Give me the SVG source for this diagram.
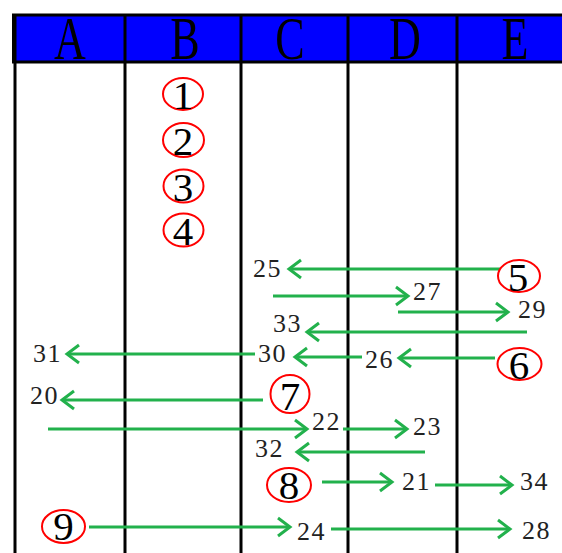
<svg xmlns="http://www.w3.org/2000/svg" width="562" height="553" viewBox="0 0 562 553">
<style>
.hdr{font-family:"Liberation Serif","Times New Roman",serif;font-size:44px;fill:#000;text-anchor:middle}
.grid{stroke:#000;stroke-width:3;fill:none}
.ring{fill:none;stroke:#ff0000;stroke-width:2}
.dig{font-family:"Liberation Serif","Times New Roman",serif;font-size:41px;fill:#000;text-anchor:middle}
.lbl{font-family:"Liberation Serif","Times New Roman",serif;font-size:26px;fill:#222;letter-spacing:1.5px}
.arr{stroke:#22b14c;stroke-width:3;fill:none;marker-end:url(#chev)}
</style>
<defs>
<marker id="chev" markerUnits="userSpaceOnUse" viewBox="-16 -12 20 24" refX="0" refY="0" markerWidth="20" markerHeight="24" orient="auto" overflow="visible">
<path d="M-12,-9 L0,0 L-12,9" fill="none" stroke="#22b14c" stroke-width="3" stroke-linejoin="miter"/>
</marker>
</defs>
<rect width="562" height="553" fill="#fff"/>
<g id="header">
<rect x="13.5" y="15" width="552" height="47" fill="#0000ff" stroke="#000" stroke-width="3"/>
<text class="hdr" transform="translate(70,59) scale(1,1.37)">A</text>
<text class="hdr" transform="translate(185,59) scale(1,1.37)">B</text>
<text class="hdr" transform="translate(290,59) scale(1,1.37)">C</text>
<text class="hdr" transform="translate(405,59) scale(1,1.37)">D</text>
<text class="hdr" transform="translate(515,59) scale(1,1.37)">E</text>
</g>
<g id="grid" class="grid">
<line x1="15" y1="15" x2="15" y2="553"/>
<line x1="125" y1="15" x2="125" y2="553"/>
<line x1="241" y1="15" x2="241" y2="553"/>
<line x1="348" y1="15" x2="348" y2="553"/>
<line x1="457" y1="15" x2="457" y2="553"/>
</g>
<g id="connectors">
<line class="arr" x1="500" y1="269" x2="289" y2="269"/>
<line class="arr" x1="273" y1="296" x2="408" y2="296"/>
<line class="arr" x1="398" y1="312" x2="508" y2="312"/>
<line class="arr" x1="527" y1="332" x2="307" y2="332"/>
<line class="arr" x1="495" y1="358" x2="399" y2="358"/>
<line class="arr" x1="362" y1="357" x2="295" y2="357"/>
<line class="arr" x1="255" y1="354" x2="67" y2="354"/>
<line class="arr" x1="263" y1="400" x2="62" y2="400"/>
<line class="arr" x1="48" y1="429" x2="307" y2="429"/>
<line class="arr" x1="343" y1="429" x2="407" y2="429"/>
<line class="arr" x1="425" y1="452" x2="297" y2="452"/>
<line class="arr" x1="322" y1="482" x2="392" y2="482"/>
<line class="arr" x1="435" y1="485" x2="512" y2="485"/>
<line class="arr" x1="89" y1="527" x2="290" y2="527"/>
<line class="arr" x1="331" y1="529" x2="510" y2="529"/>
</g>
<g id="n1"><ellipse class="ring" cx="183" cy="94" rx="20" ry="16"/><text class="dig" x="183" y="109">1</text></g>
<g id="n2"><ellipse class="ring" cx="183.5" cy="140" rx="20.5" ry="17"/><text class="dig" x="183" y="155">2</text></g>
<g id="n3"><ellipse class="ring" cx="183.5" cy="186" rx="20" ry="16.5"/><text class="dig" x="183" y="201">3</text></g>
<g id="n4"><ellipse class="ring" cx="183.5" cy="230" rx="20" ry="16.5"/><text class="dig" x="183" y="245">4</text></g>
<g id="n5"><ellipse class="ring" cx="519" cy="276" rx="21" ry="16"/><text class="dig" x="518" y="291">5</text></g>
<g id="n6"><ellipse class="ring" cx="519.5" cy="364" rx="22" ry="16"/><text class="dig" x="519" y="379">6</text></g>
<g id="n7"><ellipse class="ring" cx="290" cy="394" rx="19.5" ry="19"/><text class="dig" x="290" y="410">7</text></g>
<g id="n8"><ellipse class="ring" cx="289" cy="485" rx="22" ry="17"/><text class="dig" x="289" y="499">8</text></g>
<g id="n9"><ellipse class="ring" cx="63.5" cy="526.5" rx="21.5" ry="16.5"/><text class="dig" x="63.5" y="540">9</text></g>
<g id="labels">
<text class="lbl" x="253" y="277">25</text>
<text class="lbl" x="413" y="300">27</text>
<text class="lbl" x="518" y="318">29</text>
<text class="lbl" x="273" y="332">33</text>
<text class="lbl" x="258" y="362">30</text>
<text class="lbl" x="365" y="368">26</text>
<text class="lbl" x="33" y="362">31</text>
<text class="lbl" x="30" y="404">20</text>
<text class="lbl" x="312" y="430">22</text>
<text class="lbl" x="413" y="435">23</text>
<text class="lbl" x="255" y="457">32</text>
<text class="lbl" x="402" y="490">21</text>
<text class="lbl" x="520" y="490">34</text>
<text class="lbl" x="297" y="540">24</text>
<text class="lbl" x="522" y="539">28</text>
</g>
</svg>
